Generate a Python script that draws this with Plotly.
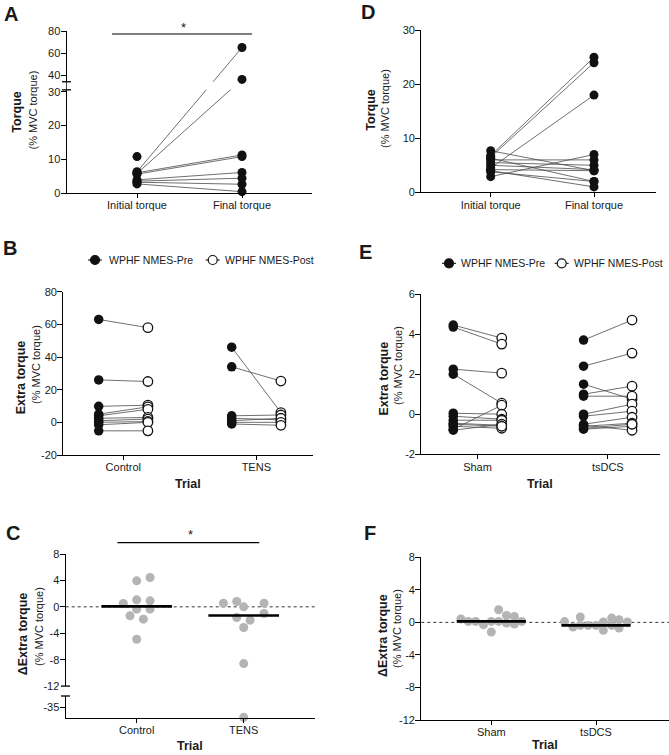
import numpy as np
import plotly.graph_objects as go

W, H = 669, 755
FONT = "Liberation Sans, Arial, sans-serif"
INK = "#1a1a1a"

# ---------------- data ----------------
# A: torque at start / end of WPHF NMES (% MVC torque)
a_cats = ["Initial torque", "Final torque"]
a_initial = [6.3, 5.8, 6.0, 5.6, 3.9, 3.5, 3.2, 2.7, 10.8]
a_final = [65.0, 36.0, 11.3, 10.8, 6.1, 4.4, 2.6, 0.4, None]

# D: same, second experiment
d_cats = ["Initial torque", "Final torque"]
d_initial = [6.8, 6.5, 4.5, 2.9, 7.7, 6.0, 5.5, 5.0, 4.2, 6.3, 4.0, 3.8]
d_final = [25.0, 24.0, 18.0, 7.0, 4.0, 6.0, 5.0, 4.2, 4.0, 2.0, 1.0, 2.0]

# B: extra torque pre / post, Control and TENS
b_cats = ["Control", "TENS"]
b_control_pre = [63.0, 26.0, 9.8, 5.0, 4.0, 2.5, 1.0, 0.0, -1.5, -5.2]
b_control_post = [58.0, 25.0, 10.5, 9.5, 8.0, 3.0, 2.0, 0.5, 0.0, -5.2]
b_tens_pre = [46.0, 34.0, 4.0, 2.5, 1.0, 0.0, -1.0]
b_tens_post = [6.0, 25.3, 4.5, 1.5, 2.5, 0.0, -1.8]

# E: extra torque pre / post, Sham and tsDCS
e_cats = ["Sham", "tsDCS"]
e_sham_pre = [4.45, 4.35, 2.25, 2.0, -0.75, 0.05, -0.1, -0.3, -0.45, -0.6, -0.8, -0.5]
e_sham_post = [3.8, 3.5, 2.05, 0.55, 0.45, 0.0, -0.25, -0.3, -0.55, -0.7, -0.5, -0.6]
e_tsdcs_pre = [3.7, 2.4, 1.5, 1.0, 0.9, 0.0, -0.1, -0.5, -0.6, -0.75, -0.55, -0.7]
e_tsdcs_post = [4.7, 3.05, 0.75, 1.4, 0.9, 0.5, 0.15, -0.15, -0.45, -0.6, -0.8, -0.5]

# C: delta extra torque, Control and TENS
c_cats = ["Control", "TENS"]
c_control = [3.94, 4.44, 0.5, 1.06, 0.91, -0.35, -0.35, -1.36, -1.87, -4.9]
c_tens = [0.55, 0.81, 0.0, 0.55, -1.62, -2.02, -1.01, -3.13, -8.59, -39.7]

# F: delta extra torque, Sham and tsDCS
f_cats = ["Sham", "tsDCS"]
f_sham = [0.41, 0.12, 0.12, -0.28, 0.12, -1.18, 1.55, 0.12, 0.86, -0.08, 0.73, -0.2, 0.12]
f_tsdcs = [0.1, -0.57, 0.66, -0.37, -0.37, -0.37, 0.04, -0.98, 0.53, -0.37, 0.33, -0.69, 0.04]

# horizontal spread of the column scatters (position only)
c_control_jit = [0, 0.125, -0.125, 0, 0.125, 0, 0.125, -0.0625, 0.0625, 0]
c_tens_jit = [-0.19, -0.065, 0.0, 0.19, -0.065, 0.06, 0.19, 0.0, 0.0, 0.0]
f_sham_jit = [-0.29, -0.22, -0.15, -0.075, 0, 0, 0.07, 0.07, 0.145, 0.145, 0.22, 0.22, 0.29]
f_tsdcs_jit = [-0.3, -0.22, -0.15, -0.15, -0.075, 0, 0.07, 0.07, 0.15, 0.15, 0.22, 0.22, 0.3]


# broken axes (GraphPad style): values mapped to a piecewise linear scale
def tA(v):
    v = np.array(v, dtype=float)
    return np.where(v <= 30, v, 35.0 + (v - 40.0) * 0.3265)


def tC(v):
    v = np.array(v, dtype=float)
    return np.where(v >= -12, v, -13.5 + (v + 30.0) * 0.333)


def px(x):
    return x / W


def py(y):
    return 1 - y / H


fig = go.Figure()

axis_style = dict(showline=True, linecolor="black", linewidth=1.3, ticks="outside",
                  tickwidth=1.3, tickcolor="black", showgrid=False, automargin=False,
                  zeroline=False, fixedrange=True,
                  tickfont=dict(family=FONT, size=11, color=INK))


def setup_axes(i, xl, xr, c0, c1, yb, yt, yrange, cats, yticks, ytext=None):
    s = "" if i == 1 else str(i)
    u = c1 - c0
    fig.update_layout(**{
        "xaxis" + s: dict(domain=[px(xl), px(xr)], range=[(xl - c0) / u, (xr - c0) / u],
                          tickmode="array", tickvals=[0, 1], ticktext=cats, ticklen=4,
                          ticklabelstandoff=-2, anchor="y" + s, **axis_style),
        "yaxis" + s: dict(domain=[py(yb), py(yt)], range=yrange, tickmode="array",
                          tickvals=list(yticks), ticklen=5, ticklabelstandoff=-2,
                          ticktext=ytext if ytext else [str(v) for v in yticks],
                          anchor="x" + s, **axis_style),
    })


def ax(i):
    s = "" if i == 1 else str(i)
    return dict(xaxis="x" + s, yaxis="y" + s)


LINE = dict(color="#4a4a4a", width=0.8)


def paired(i, pre, post, x_pre, x_post, size, open_post):
    pre = np.array(pre, dtype=float)
    post = np.array(post, dtype=float)
    xs, ys = [], []
    for a, b in zip(pre, post):
        if np.isnan(a) or np.isnan(b):
            continue
        xs += [x_pre, x_post, None]
        ys += [a, b, None]
    fig.add_trace(go.Scatter(x=xs, y=ys, mode="lines", line=LINE, hoverinfo="skip", **ax(i)))
    fig.add_trace(go.Scatter(x=[x_pre] * len(pre), y=pre, mode="markers", cliponaxis=False,
                             marker=dict(size=size, color="#111111"), **ax(i)))
    if open_post:
        mk = dict(size=size, color="white", line=dict(color="#111111", width=1.3))
    else:
        mk = dict(size=size, color="#111111")
    fig.add_trace(go.Scatter(x=[x_post] * len(post), y=post, mode="markers", cliponaxis=False,
                             marker=mk, **ax(i)))


def column(i, vals, jit, cat, yvals=None):
    yv = vals if yvals is None else yvals
    fig.add_trace(go.Scatter(x=[cat + j for j in jit], y=yv, mode="markers", cliponaxis=False,
                             marker=dict(size=9, color="#b4b4b4"), **ax(i)))
    med = float(np.median(vals))
    fig.add_trace(go.Scatter(x=[cat - 0.33, cat + 0.33], y=[med, med], mode="lines",
                             line=dict(color="black", width=2.6), **ax(i)))


# ---------------- panels ----------------
# A
setup_axes(1, 66.7, 312, 137, 242, 193, 31, [0, float(tA(80))], a_cats,
           [0, 10, 20, 30] + list(tA([40, 60, 80])), ["0", "10", "20", "30", "40", "60", "80"])
paired(1, tA(a_initial), tA(a_final), 0, 1, 9, False)

# D
setup_axes(2, 421.3, 656, 490.7, 594, 192.3, 30.3, [0, 30], d_cats, [0, 10, 20, 30])
paired(2, d_initial, d_final, 0, 1, 9, False)

# B
setup_axes(3, 63.3, 313, 123.3, 256.3, 455, 291.7, [-20, 80], b_cats, [-20, 0, 20, 40, 60, 80])
paired(3, b_control_pre, b_control_post, -0.185, 0.185, 9.5, True)
paired(3, b_tens_pre, b_tens_post, 1 - 0.185, 1 + 0.185, 9.5, True)

# E
setup_axes(4, 421.3, 660, 477.5, 607.8, 454.3, 294, [-2, 6], e_cats, [-2, 0, 2, 4, 6])
paired(4, e_sham_pre, e_sham_post, -0.186, 0.186, 9.5, True)
paired(4, e_tsdcs_pre, e_tsdcs_post, 1 - 0.186, 1 + 0.186, 9.5, True)

# C
setup_axes(5, 65.7, 315, 136.7, 243.7, 718, 554, [float(tC(-40)), 8], c_cats,
           [8, 4, 0, -4, -8, -12, float(tC(-35))], ["8", "4", "0", "-4", "-8", "-12", "-35"])
column(5, c_control, c_control_jit, 0)
column(5, c_tens, c_tens_jit, 1, yvals=tC(c_tens))

# F
setup_axes(6, 421.3, 669, 491.3, 596, 720, 557.3, [-12, 8], f_cats, [-12, -8, -4, 0, 4, 8])
column(6, f_sham, f_sham_jit, 0)
column(6, f_tsdcs, f_tsdcs_jit, 1)

# ---------------- decorations ----------------
shapes = []
# axis breaks
shapes.append(dict(type="rect", xref="x", yref="y", x0=-0.72, x1=0.97, y0=30.6, y1=33.0,
                   fillcolor="white", line=dict(width=0), layer="above"))
for yb in (30.6, 33.0):
    shapes.append(dict(type="line", xref="paper", yref="y", x0=px(62), x1=px(71), y0=yb, y1=yb,
                       line=dict(color="black", width=1.3), layer="above"))
shapes.append(dict(type="rect", xref="x5 domain", yref="y5", x0=-0.03, x1=1.0, y0=-13.5, y1=-12.0,
                   fillcolor="white", line=dict(width=0), layer="above"))
for yb in (-12.0, -13.5):
    shapes.append(dict(type="line", xref="paper", yref="y5", x0=px(61), x1=px(70), y0=yb, y1=yb,
                       line=dict(color="black", width=1.3), layer="above"))
# dotted zero lines
for a in ("5", "6"):
    shapes.append(dict(type="line", xref="x%s domain" % a, yref="y" + a, x0=0, x1=1, y0=0, y1=0,
                       line=dict(color="#333333", width=1, dash="dot"), layer="below"))
# significance bars
shapes.append(dict(type="line", xref="x", yref="paper", x0=-0.238, x1=1.095, y0=py(34), y1=py(34),
                   line=dict(color="black", width=1.2)))
shapes.append(dict(type="line", xref="x5", yref="paper", x0=-0.18, x1=1.146, y0=py(542.7), y1=py(542.7),
                   line=dict(color="black", width=1.2)))

# legends of B and E
legend_items = [(95, 106.7, 260, "WPHF NMES-Pre", True), (212.7, 222.7, 260, "WPHF NMES-Post", False),
                (449, 459, 263.3, "WPHF NMES-Pre", True), (561.7, 571.7, 263.3, "WPHF NMES-Post", False)]
annotations = []
for cx, tx, cy, label, filled in legend_items:
    shapes.append(dict(type="line", xref="paper", yref="paper", x0=px(cx - 7), x1=px(cx + 7),
                       y0=py(cy), y1=py(cy), line=dict(color="black", width=1)))
    shapes.append(dict(type="circle", xref="paper", yref="paper", x0=px(cx - 4.5), x1=px(cx + 4.5),
                       y0=py(cy + 4.5), y1=py(cy - 4.5), fillcolor="#111111" if filled else "white",
                       line=dict(color="#111111", width=1.2)))
    annotations.append(dict(text=label, x=px(tx), y=py(cy), xref="paper", yref="paper",
                            xanchor="left", yanchor="middle", showarrow=False,
                            font=dict(family=FONT, size=10.5, color=INK)))


def note(text, x, y, size, angle=0, anchor="center"):
    annotations.append(dict(text=text, x=px(x), y=py(y), xref="paper", yref="paper",
                            xanchor=anchor, yanchor="middle", showarrow=False, textangle=angle,
                            font=dict(family=FONT, size=size, color=INK)))


# panel letters
for lab, x, y in [("A", 10.8, 13.7), ("D", 368, 12.2), ("B", 10, 248.3),
                  ("E", 365.7, 251.7), ("C", 13.3, 532.5), ("F", 370, 533.3)]:
    note("<b>%s</b>" % lab, x, y, 20)

# y titles
for bold, x1, y1, x2, y2 in [("Torque", 16.7, 112, 32.5, 110),
                             ("Torque", 370.7, 110, 385, 109),
                             ("Extra torque", 21.3, 377, 36, 365),
                             ("Extra torque", 383.5, 378, 398, 366),
                             ("ΔExtra torque", 23.3, 634, 39, 627),
                             ("ΔExtra torque", 383, 636, 397, 629)]:
    note("<b>%s</b>" % bold, x1, y1, 12.5, angle=-90)
    note("(% MVC torque)", x2, y2, 11, angle=-90)

# x titles
for x, y in [(188, 484), (540, 484), (190, 746), (545, 745)]:
    note("<b>Trial</b>", x, y, 12.5)

# significance stars
note("*", 183, 27, 13)
note("*", 190, 534, 13)

fig.update_layout(width=W, height=H, margin=dict(l=0, r=0, t=0, b=0, autoexpand=False),
                  paper_bgcolor="white", plot_bgcolor="white", showlegend=False,
                  shapes=shapes, annotations=annotations,
                  font=dict(family=FONT, color=INK))

# page body has an 8px default margin; drop it so the figure sits at the window corner
fig.write_html("out.html", config={"displayModeBar": False},
               post_script="document.body.style.margin='0px';")
